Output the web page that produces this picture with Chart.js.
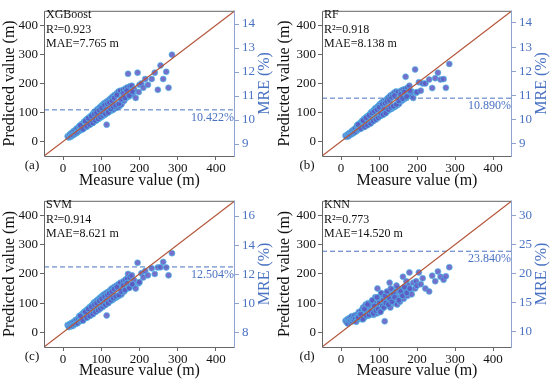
<!DOCTYPE html>
<html lang="en">
<head>
<meta charset="UTF-8">
<title>Measured vs predicted</title>
<script src="https://cdn.jsdelivr.net/npm/chart.js"></script>
<style>
  body { margin: 0; background: #fff; }
  #wrap { position: relative; width: 550px; height: 380px; }
  .cell { position: absolute; width: 275px; height: 190px; }
</style>
</head>
<body>
<div id="wrap">
  <div class="cell" style="left:0;top:0"><canvas id="c0" width="275" height="190"></canvas></div>
  <div class="cell" style="left:275px;top:0"><canvas id="c1" width="275" height="190"></canvas></div>
  <div class="cell" style="left:0;top:190px"><canvas id="c2" width="275" height="190"></canvas></div>
  <div class="cell" style="left:275px;top:190px"><canvas id="c3" width="275" height="190"></canvas></div>
</div>
<script>
// measured heights shared by all four models (m)
const measured = [
  12, 15, 17, 18, 20, 21, 23, 25, 26, 28, 30, 31, 33, 35, 36, 38, 40,
  42, 44, 45, 47, 49, 50, 52, 54, 55, 57, 58, 60, 61, 63, 65, 66, 68, 70, 71, 73, 75, 76, 78, 80,
  81, 83, 85, 86, 88, 90, 91, 93, 95, 96, 98, 100, 102, 103, 105, 107, 108, 110, 112, 114, 115, 117, 120,
  122, 124, 126, 128, 130, 132, 135, 137, 140, 142, 145, 148, 150, 153, 155, 158, 160,
  163, 165, 168, 170, 172, 175, 178, 180, 183, 186, 190, 195, 198, 200,
  205, 210, 215, 222, 232, 240, 248, 255, 262, 270, 276, 285,
  45, 52, 58, 62, 66, 70, 74, 78, 82, 85, 88, 92, 95, 98, 101, 104, 106, 109,
  111, 113, 116, 118, 121, 125, 128, 131, 134, 138, 141, 146, 152, 157, 162, 167, 173, 181
];
const predXGB = [
  18, 14, 22, 24, 16, 28, 20, 32, 22, 36, 25, 38, 28, 44, 30, 46, 34,
  52, 38, 55, 40, 60, 44, 62, 46, 68, 48, 70, 50, 76, 54, 78, 56, 82, 60, 86, 62, 90, 64, 95, 68,
  100, 70, 104, 72, 108, 76, 112, 78, 116, 82, 120, 84, 125, 88, 128, 90, 132, 94, 135, 58, 98, 140, 102,
  145, 105, 150, 108, 155, 110, 160, 115, 165, 118, 172, 122, 175, 128, 150, 178, 140,
  182, 150, 186, 233, 155, 190, 160, 192, 165, 180, 150, 237, 170, 195,
  200, 185, 215, 195, 215, 237, 178, 262, 215, 240, 185, 299,
  55, 42, 70, 52, 80, 58, 88, 64, 95, 72, 100, 78, 108, 84, 115, 90, 98, 125,
  95, 110, 130, 100, 135, 112, 140, 120, 150, 125, 160, 130, 145, 165, 150, 175, 158, 172
];
const predRF = [
  20, 16, 24, 22, 18, 28, 22, 30, 24, 35, 27, 38, 30, 42, 32, 45, 35,
  55, 40, 58, 42, 62, 45, 65, 48, 70, 50, 72, 52, 78, 55, 80, 58, 85, 60, 88, 63, 92, 65, 98, 68,
  102, 72, 106, 74, 110, 78, 115, 80, 118, 84, 122, 86, 128, 88, 130, 92, 135, 95, 138, 100, 96, 142, 104,
  148, 106, 152, 110, 158, 112, 162, 116, 168, 120, 172, 125, 170, 130, 150, 175, 140,
  178, 145, 180, 223, 150, 185, 158, 192, 160, 172, 150, 248, 168, 170,
  204, 175, 200, 200, 213, 184, 218, 237, 213, 215, 185, 267,
  58, 44, 72, 50, 82, 56, 90, 62, 98, 70, 104, 76, 110, 82, 118, 88, 96, 128,
  92, 112, 132, 98, 138, 110, 142, 118, 152, 122, 158, 128, 140, 162, 148, 170, 155, 175
];
const predSVM = [
  25, 18, 28, 20, 30, 24, 32, 22, 35, 26, 38, 28, 42, 30, 44, 32, 46,
  55, 38, 58, 42, 62, 44, 65, 46, 70, 48, 72, 52, 76, 54, 80, 56, 84, 60, 88, 62, 92, 66, 96, 70,
  102, 72, 105, 75, 108, 78, 112, 80, 116, 82, 120, 86, 124, 88, 128, 92, 130, 95, 134, 58, 100, 138, 104,
  142, 108, 148, 110, 152, 114, 156, 118, 160, 122, 165, 126, 170, 130, 150, 175, 140,
  180, 148, 185, 200, 152, 188, 158, 195, 162, 178, 150, 238, 168, 172,
  202, 188, 210, 195, 219, 200, 222, 223, 241, 222, 195, 271,
  56, 40, 70, 50, 80, 56, 88, 62, 95, 70, 100, 76, 108, 82, 115, 88, 98, 122,
  94, 108, 128, 100, 134, 110, 140, 118, 148, 124, 155, 128, 140, 160, 145, 168, 152, 165
];
const predKNN = [
  40, 35, 45, 30, 42, 48, 36, 50, 40, 55, 38, 45, 52, 42, 58, 48, 36,
  60, 45, 55, 70, 48, 62, 52, 75, 45, 65, 85, 50, 72, 60, 95, 55, 78, 65, 100, 58, 82, 70, 90, 62,
  95, 72, 108, 60, 88, 120, 75, 100, 65, 150, 85, 110, 70, 95, 130, 78, 105, 88, 125, 95, 38, 112, 100,
  135, 92, 118, 170, 85, 130, 110, 145, 100, 125, 140, 95, 150, 120, 105, 145, 130,
  190, 115, 150, 140, 175, 125, 160, 205, 145, 130, 170, 150, 175, 160,
  205, 165, 185, 150, 140, 194, 175, 208, 190, 180, 192, 223,
  50, 62, 45, 80, 58, 95, 60, 72, 110, 65, 90, 75, 120, 80, 100, 70, 135, 90,
  110, 85, 125, 100, 140, 95, 115, 150, 105, 130, 120, 160, 110, 140, 125, 155, 135, 150
];

const models = ['XGBoost', 'RF', 'SVM', 'KNN'];
const r2 = ['0.923', '0.918', '0.914', '0.773'];
const mae = ['7.765', '8.138', '8.621', '14.520'];
const mre = [10.422, 10.890, 12.504, 23.840];
const tags = ['(a)', '(b)', '(c)', '(d)'];
const axisRange = [-50, 450];
const valueTicks = [0, 100, 200, 300, 400];
const mreRange = [[8.5, 14.55], [8.5, 14.5], [7, 17.05], [7.4, 32.5]];
const mreTicks = [
  [9, 10, 11, 12, 13, 14],
  [9, 10, 11, 12, 13, 14],
  [8, 10, 12, 14, 16],
  [10, 15, 20, 25, 30]
];
const preds = [predXGB, predRF, predSVM, predKNN];

const SERIF = "'Liberation Serif', 'Times New Roman', serif";
const BLUE = '#4a72c2';

const decor = {
  id: 'decor',
  afterDraw(chart, args, o) {
    const ctx = chart.ctx, a = chart.chartArea;
    ctx.save();
    // frame
    ctx.strokeStyle = '#666';
    ctx.lineWidth = 1;
    ctx.beginPath();
    ctx.moveTo(a.right, a.top + 0.5);
    ctx.lineTo(a.left + 0.5, a.top + 0.5);
    ctx.lineTo(a.left + 0.5, a.bottom + 0.5);
    ctx.lineTo(a.right, a.bottom + 0.5);
    ctx.stroke();
    ctx.strokeStyle = '#8ea3d2';
    ctx.beginPath();
    ctx.moveTo(a.right - 0.5, a.top);
    ctx.lineTo(a.right - 0.5, a.bottom + 1);
    ctx.stroke();
    // stats text
    ctx.fillStyle = '#111';
    ctx.font = '12px ' + SERIF;
    ctx.textAlign = 'left';
    ctx.textBaseline = 'middle';
    ctx.fillText(o.name, a.left + 2, a.top + 4);
    ctx.fillText('R\u00b2=' + o.r2, a.left + 2, a.top + 19);
    ctx.fillText('MAE=' + o.mae + ' m', a.left + 2, a.top + 33);
    // mre label
    const y2 = chart.scales.y2;
    const yy = y2.getPixelForValue(o.mre);
    ctx.fillStyle = BLUE;
    ctx.textAlign = 'right';
    ctx.fillText(o.mre.toFixed(3) + '%', a.right - 1, yy + 8);
    // right title
    ctx.font = '16px ' + SERIF;
    ctx.textAlign = 'center';
    ctx.translate(a.right + 30, (a.top + a.bottom) / 2);
    ctx.rotate(-Math.PI / 2);
    ctx.fillText('MRE (%)', 0, 0);
    ctx.restore();
    // panel tag
    ctx.save();
    ctx.fillStyle = '#111';
    ctx.font = '13px ' + SERIF;
    ctx.textAlign = 'center';
    ctx.textBaseline = 'middle';
    ctx.fillText(o.tag, 32, a.bottom + 10);
    ctx.restore();
  }
};

function fixTicks(list) {
  return function (scale) { scale.ticks = list.map(v => ({ value: v })); };
}

models.forEach(function (name, i) {
  const left = (i % 2 === 0) ? 44 : 47;
  const right = (i % 2 === 0) ? 40 : 38;
  const top = (i < 2) ? 3 : 4;
  const pts = measured.map((m, k) => ({ x: m, y: preds[i][k] }));
  new Chart(document.getElementById('c' + i), {
    type: 'scatter',
    data: {
      datasets: [
        {
          type: 'line',
          data: [{ x: axisRange[0], y: axisRange[0] }, { x: axisRange[1], y: axisRange[1] }],
          borderColor: '#b4553a',
          borderWidth: 1.2,
          pointRadius: 0,
          order: 0
        },
        {
          type: 'line',
          yAxisID: 'y2',
          data: [{ x: axisRange[0], y: mre[i] }, { x: axisRange[1], y: mre[i] }],
          borderColor: BLUE,
          borderWidth: 1,
          borderDash: [5, 3],
          pointRadius: 0,
          order: 0
        },
        {
          data: pts,
          backgroundColor: 'rgba(92,88,195,0.85)',
          borderColor: 'rgba(80,195,235,0.65)',
          borderWidth: 1,
          pointRadius: 3,
          order: 1
        }
      ]
    },
    options: {
      responsive: false,
      animation: false,
      layout: { padding: { top: top, left: 0, right: 0, bottom: 0 } },
      plugins: {
        legend: { display: false },
        tooltip: { enabled: false },
        decor: { name: name, r2: r2[i], mae: mae[i], mre: mre[i], tag: tags[i] }
      },
      scales: {
        x: {
          type: 'linear',
          min: axisRange[0], max: axisRange[1],
          afterBuildTicks: fixTicks(valueTicks),
          afterFit(s) { s.height = (i < 2) ? 34 : 33; },
          grid: { drawOnChartArea: false, tickLength: 4, color: '#666' },
          border: { display: false },
          ticks: { color: '#111', font: { family: SERIF, size: 13 }, padding: 1, maxRotation: 0 },
          title: { display: true, text: 'Measure value (m)', color: '#111', font: { family: SERIF, size: 16 }, padding: 0 }
        },
        y: {
          min: axisRange[0], max: axisRange[1],
          afterBuildTicks: fixTicks(valueTicks),
          afterFit(s) { s.width = left; },
          grid: { drawOnChartArea: false, tickLength: 4, color: '#666' },
          border: { display: false },
          ticks: { color: '#111', font: { family: SERIF, size: 13 }, padding: 2 },
          title: { display: true, text: 'Predicted value (m)', color: '#111', font: { family: SERIF, size: 16 }, padding: 0 }
        },
        y2: {
          position: 'right',
          min: mreRange[i][0], max: mreRange[i][1],
          afterBuildTicks: fixTicks(mreTicks[i]),
          afterFit(s) { s.width = right; },
          grid: { drawOnChartArea: false, tickLength: 4, color: '#8ea3d2' },
          border: { display: false },
          ticks: { color: BLUE, font: { family: SERIF, size: 13 }, padding: 3 }
        }
      }
    },
    plugins: [decor]
  });
});
</script>
</body>
</html>
